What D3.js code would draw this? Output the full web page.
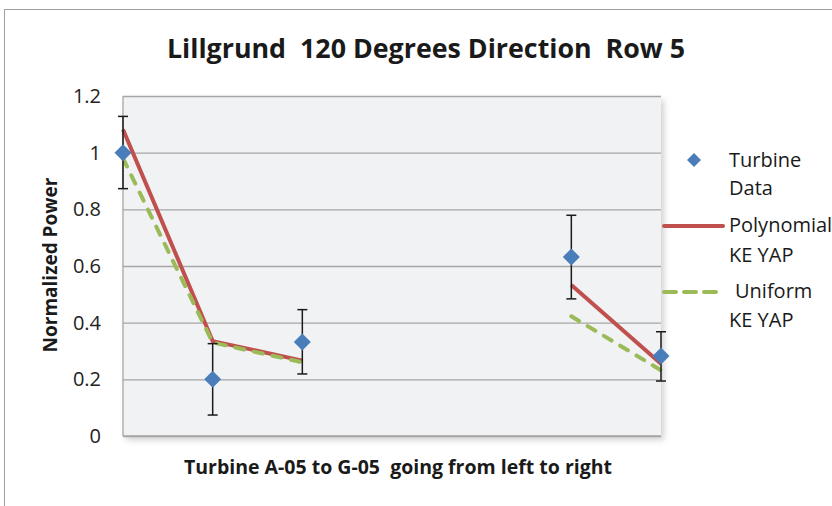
<!DOCTYPE html>
<html>
<head>
<meta charset="utf-8">
<script src="https://cdn.jsdelivr.net/npm/d3@7"></script>
<style>
  body { margin: 0; background: #fff; }
  svg { font-family: "Open Sans", sans-serif; }
  svg text { white-space: pre; }
</style>
</head>
<body>
<div id="chart"></div>
<script>
// chart data
var turbines = ["A-05", "B-05", "C-05", "D-05", "E-05", "F-05", "G-05"];
var turbineData = [1.0, 0.2, 0.332, null, null, 0.632, 0.282];
var errLow = [0.873, 0.074, 0.219, null, null, 0.484, 0.194];
var errHigh = [1.128, 0.326, 0.446, null, null, 0.779, 0.368];
var polynomialYap = [1.082, 0.335, 0.266, null, null, 0.533, 0.255];
var uniformYap = [0.98, 0.33, 0.26, null, null, 0.4225, 0.232];
var yTicks = [0, 0.2, 0.4, 0.6, 0.8, 1, 1.2];

var W = 832, H = 506;
var margin = {top: 96, right: 171, bottom: 70, left: 123},
    width = W - margin.left - margin.right,
    height = H - margin.top - margin.bottom;

var root = d3.select("#chart")
  .append("svg")
    .attr("width", W)
    .attr("height", H);

// drop shadow for the plot area
var defs = root.append("defs");
var f = defs.append("filter").attr("id", "shadow")
  .attr("x", "-5%").attr("y", "-5%").attr("width", "115%").attr("height", "125%");
f.append("feDropShadow")
  .attr("dx", 3).attr("dy", 4).attr("stdDeviation", 3)
  .attr("flood-color", "#000").attr("flood-opacity", 0.18);

// outer frame
root.append("rect")
  .attr("x", 4.5).attr("y", 9.5)
  .attr("width", W + 10).attr("height", H + 10)
  .attr("fill", "#fff")
  .attr("stroke", "#a0a0a0")
  .attr("stroke-width", 1);

// title
root.append("text")
  .attr("x", 426).attr("y", 58)
  .attr("text-anchor", "middle")
  .style("font-size", "26.8px")
  .style("font-weight", "bold")
  .attr("fill", "#1a1a1a")
  .text("Lillgrund  120 Degrees Direction  Row 5");

var svg = root.append("g")
  .attr("transform", "translate(" + margin.left + "," + margin.top + ")");

var x = d3.scalePoint()
  .domain(turbines)
  .range([0, width]);

var y = d3.scaleLinear()
  .domain([0, 1.2])
  .range([height, 0]);

// plot background
svg.append("rect")
  .attr("width", width).attr("height", height)
  .attr("fill", "#f1f2f4")
  .attr("filter", "url(#shadow)");

// horizontal grid lines
svg.append("g")
  .attr("class", "grid")
  .call(d3.axisLeft(y)
    .tickValues(yTicks)
    .tickSize(-width)
    .tickFormat("")
    .tickSizeOuter(0))
  .call(g => g.select(".domain").remove());

svg.selectAll(".grid line")
  .style("stroke", "#a6a6a6")
  .style("stroke-width", 1.3);

// left and bottom border
svg.append("line")
  .attr("x1", 0).attr("x2", 0).attr("y1", 0).attr("y2", height)
  .attr("stroke", "#a6a6a6").attr("stroke-width", 1.3);
svg.append("line")
  .attr("x1", 0).attr("x2", width).attr("y1", height).attr("y2", height)
  .attr("stroke", "#a6a6a6").attr("stroke-width", 1.3);

// Y axis labels
svg.append("g")
  .call(d3.axisLeft(y).tickValues(yTicks).tickSize(0).tickPadding(22)
    .tickFormat(d3.format("")))
  .call(g => g.select(".domain").remove())
  .selectAll("text")
  .style("font-family", "'Open Sans', sans-serif")
  .style("font-size", "20px")
  .attr("fill", "#222");

// axis titles
root.append("text")
  .attr("transform", "translate(57,265) rotate(-90)")
  .attr("text-anchor", "middle")
  .style("font-size", "19px")
  .style("font-weight", "bold")
  .attr("fill", "#1a1a1a")
  .text("Normalized Power");

root.append("text")
  .attr("x", 398).attr("y", 474)
  .attr("text-anchor", "middle")
  .style("font-size", "19.5px")
  .style("font-weight", "bold")
  .attr("fill", "#1a1a1a")
  .text("Turbine A-05 to G-05  going from left to right");

function rows(vals) {
  return turbines.map((t, i) => ({t: t, v: vals[i]}));
}

var line = d3.line()
  .defined(d => d.v != null)
  .x(d => x(d.t))
  .y(d => y(d.v));

// polynomial line
svg.append("path")
  .datum(rows(polynomialYap))
  .attr("fill", "none")
  .attr("stroke", "#c0504d")
  .attr("stroke-width", 4)
  .attr("d", line);

// uniform line
svg.append("path")
  .datum(rows(uniformYap))
  .attr("fill", "none")
  .attr("stroke", "#9bbb59")
  .attr("stroke-width", 4)
  .attr("stroke-dasharray", "9 10")
  .attr("stroke-linecap", "round")
  .attr("d", line);

// error bars
var errs = turbines.map((t, i) => ({t: t, lo: errLow[i], hi: errHigh[i]}))
  .filter(d => d.lo != null);
var eb = svg.append("g").selectAll("g").data(errs).enter().append("g")
  .attr("stroke", "#1a1a1a").attr("stroke-width", 1.5);
eb.append("line")
  .attr("x1", d => x(d.t)).attr("x2", d => x(d.t))
  .attr("y1", d => y(d.lo)).attr("y2", d => y(d.hi));
eb.append("line")
  .attr("x1", d => x(d.t) - 5).attr("x2", d => x(d.t) + 5)
  .attr("y1", d => y(d.lo)).attr("y2", d => y(d.lo));
eb.append("line")
  .attr("x1", d => x(d.t) - 5).attr("x2", d => x(d.t) + 5)
  .attr("y1", d => y(d.hi)).attr("y2", d => y(d.hi));

// turbine data diamonds
var diamond = "M0,-8.5L8.5,0L0,8.5L-8.5,0Z";
svg.append("g")
  .selectAll("path")
  .data(rows(turbineData).filter(d => d.v != null))
  .enter()
  .append("path")
    .attr("d", diamond)
    .attr("transform", d => "translate(" + x(d.t) + "," + y(d.v) + ")")
    .attr("fill", "#4a7ebb");

// legend
var lg = root.append("g").style("font-size", "20px").attr("fill", "#1a1a1a");
lg.append("path").attr("d", "M0,-7L7,0L0,7L-7,0Z")
  .attr("transform", "translate(694,160)").attr("fill", "#4a7ebb");
lg.append("text").attr("x", 729).attr("y", 167).text("Turbine");
lg.append("text").attr("x", 729).attr("y", 195).text("Data");

lg.append("line").attr("x1", 664).attr("x2", 723).attr("y1", 226).attr("y2", 226)
  .attr("stroke", "#c0504d").attr("stroke-width", 4).attr("stroke-linecap", "round");
lg.append("text").attr("x", 729).attr("y", 232).text("Polynomial");
lg.append("text").attr("x", 729).attr("y", 262).text("KE YAP");

lg.append("line").attr("x1", 664).attr("x2", 716).attr("y1", 292).attr("y2", 292)
  .attr("stroke", "#9bbb59").attr("stroke-width", 4)
  .attr("stroke-dasharray", "12 8").attr("stroke-linecap", "round");
lg.append("text").attr("x", 735).attr("y", 298).text("Uniform");
lg.append("text").attr("x", 729).attr("y", 327).text("KE YAP");
</script>
</body>
</html>
